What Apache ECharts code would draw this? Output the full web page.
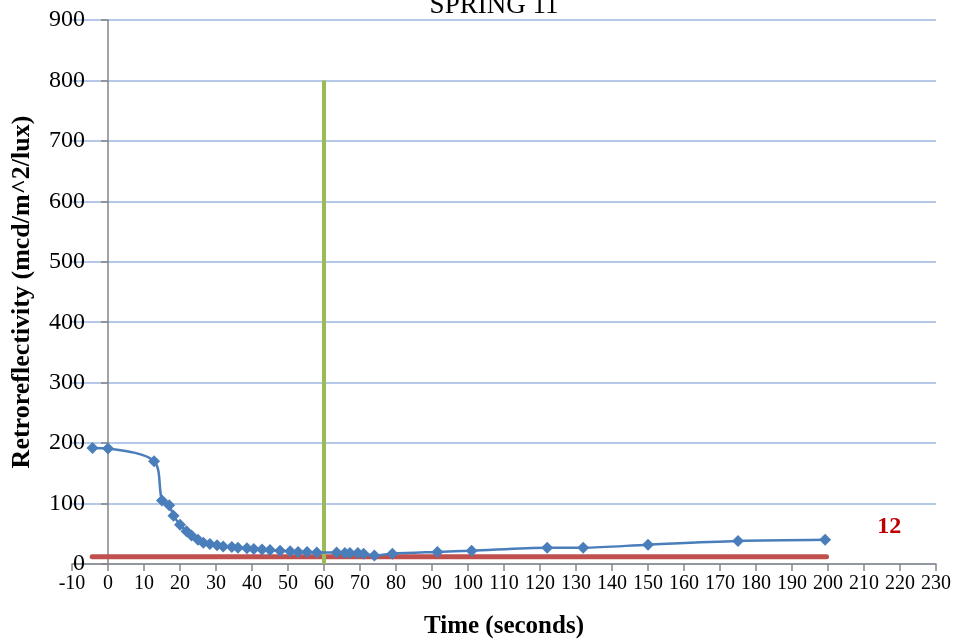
<!DOCTYPE html>
<html>
<head>
<meta charset="utf-8">
<script src="https://cdn.jsdelivr.net/npm/echarts@6/dist/echarts.min.js"></script>
<style>
html,body{margin:0;padding:0;background:#fff;}
#chart{width:957px;height:643px;}
</style>
</head>
<body>
<div id="chart"></div>
<script>
// ---- data ----
const chartTitle = 'SPRING 11';
const xAxisTitle = 'Time (seconds)';
const yAxisTitle = 'Retroreflectivity (mcd/m^2/lux)';

const timeSeconds = [-4.3, 0, 12.8, 15, 17, 18.2, 20, 21.8, 23.2, 25, 26.5, 28.3, 30.3, 32, 34.4, 36.1, 38.6, 40.5, 42.8, 45, 47.8, 50.6, 52.8, 55.3, 58, 63.5, 65.8, 67.2, 69.4, 71, 74, 79, 91.5, 101, 122, 132, 150, 175, 199.2];
const retroValues = [192, 191, 170, 105, 97, 80, 65, 54, 47, 40, 35, 33, 31, 29, 28, 27, 26, 25, 24, 23, 22, 21, 20, 20, 19, 19, 18, 18, 18, 17, 14, 17, 20, 22, 27, 27, 32, 38, 40];

const thresholdX = [-4.4, 199.6];
const thresholdValue = 12;
const thresholdLabel = '12';
const thresholdLabelAt = [217, 61];

const markerTime = 60;
const markerRange = [0, 800];

const xRange = [-10, 230];
const xStep = 10;
const yRange = [0, 900];
const yStep = 100;

// ---- chart ----
const serif = 'Liberation Serif';
const chart = echarts.init(document.getElementById('chart'));
chart.setOption({
  animation: false,
  backgroundColor: '#ffffff',
  title: {
    text: chartTitle,
    left: 489,
    textAlign: 'center',
    top: -13,
    textStyle: {fontFamily: serif, fontSize: 27, fontWeight: 'normal', color: '#000'}
  },
  grid: {left: 72, right: 21, top: 20, bottom: 79, containLabel: false, outerBoundsMode: 'none'},
  xAxis: {
    type: 'value',
    min: xRange[0], max: xRange[1], interval: xStep,
    name: xAxisTitle,
    nameLocation: 'middle',
    nameGap: 50,
    nameTextStyle: {fontFamily: serif, fontSize: 25, fontWeight: 'bold', color: '#000'},
    axisLine: {show: true, onZero: false, lineStyle: {color: '#868686', width: 1.5}},
    axisTick: {show: true, inside: false, length: 7, lineStyle: {color: '#868686', width: 1.5}},
    axisLabel: {fontFamily: serif, fontSize: 20, color: '#000', margin: 10, showMinLabel: true, showMaxLabel: true},
    splitLine: {show: false}
  },
  yAxis: {
    type: 'value',
    min: yRange[0], max: yRange[1], interval: yStep,
    name: yAxisTitle,
    nameLocation: 'middle',
    nameGap: 37,
    nameTextStyle: {fontFamily: serif, fontSize: 26, fontWeight: 'bold', color: '#000'},
    axisLine: {show: true, onZero: true, lineStyle: {color: '#868686', width: 1.5}},
    axisTick: {show: true, inside: false, length: 7, lineStyle: {color: '#868686', width: 1.5}},
    axisLabel: {fontFamily: serif, fontSize: 24, color: '#000', margin: -13},
    splitLine: {show: true, lineStyle: {color: '#9db6e0', width: 1.5}}
  },
  series: [
    {
      name: 'threshold',
      type: 'line',
      data: thresholdX.map(x => [x, thresholdValue]),
      symbol: 'none',
      lineStyle: {color: '#c0504d', width: 5, cap: 'round'},
      z: 3,
      markPoint: {
        symbol: 'circle', symbolSize: 0,
        data: [{coord: thresholdLabelAt, value: thresholdLabel}],
        label: {show: true, formatter: thresholdLabel, fontFamily: serif, fontSize: 24, fontWeight: 'bold', color: '#c00000'}
      }
    },
    {
      name: 'marker',
      type: 'line',
      data: markerRange.map(v => [markerTime, v]),
      symbol: 'none',
      lineStyle: {color: '#9bbb59', width: 4},
      z: 4
    },
    {
      name: 'retro',
      type: 'line',
      data: timeSeconds.map((t, i) => [t, retroValues[i]]),
      smooth: 0.3,
      symbol: 'diamond',
      symbolSize: 12,
      itemStyle: {color: '#4a7ebb'},
      lineStyle: {color: '#4a7ebb', width: 2.5},
      z: 5
    }
  ]
});
</script>
</body>
</html>
